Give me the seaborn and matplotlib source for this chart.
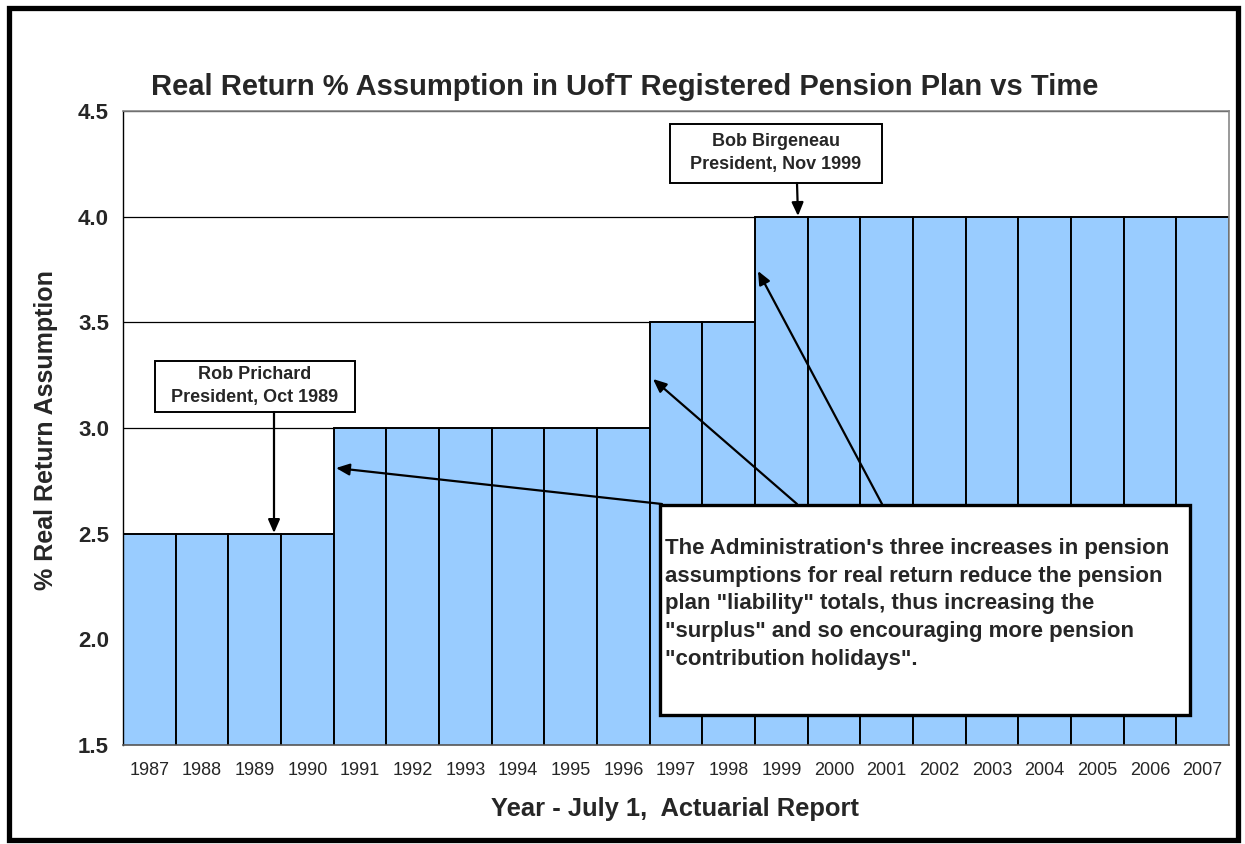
import matplotlib
matplotlib.use("Agg")
import matplotlib.pyplot as plt
import seaborn as sns
import pandas as pd
from matplotlib.patches import Rectangle

years = [str(y) for y in range(1987, 2008)]
values = [2.5, 2.5, 2.5, 2.5,
          3.0, 3.0, 3.0, 3.0, 3.0, 3.0,
          3.5, 3.5,
          4.0, 4.0, 4.0, 4.0, 4.0, 4.0, 4.0, 4.0, 4.0]
y_ticks = [1.5, 2.0, 2.5, 3.0, 3.5, 4.0, 4.5]

title = "Real Return % Assumption in UofT Registered Pension Plan vs Time"
xlabel = "Year - July 1,  Actuarial Report"
ylabel = "% Real Return Assumption"
note1 = "Rob Prichard\nPresident, Oct 1989"
note2 = "Bob Birgeneau\nPresident, Nov 1999"
note3 = ("The Administration's three increases in pension\n"
         "assumptions for real return reduce the pension\n"
         "plan \"liability\" totals, thus increasing the\n"
         "\"surplus\" and so encouraging more pension\n"
         "\"contribution holidays\".")

sns.set_style("white")
plt.rcParams['font.family'] = ['Liberation Sans', 'DejaVu Sans']

W, H = 1245, 844
fig = plt.figure(figsize=(W / 100, H / 100), dpi=100)

def fx(x):
    return x / W

def fy(y):
    return 1 - y / H

ax = fig.add_axes([fx(123), fy(745), fx(1229) - fx(123), fy(111) - fy(745)])

df = pd.DataFrame({"year": years, "value": values})
sns.barplot(data=df, x="year", y="value", ax=ax, color="#99CCFF",
            saturation=1, width=1.0, edgecolor="black", linewidth=1.4, zorder=2)

ax.set_ylim(1.5, 4.5)
ax.set_xlim(-0.5, len(years) - 0.5)
ax.set_yticks(y_ticks)
ax.set_yticklabels([f"{v:.1f}" for v in y_ticks], fontsize=16, fontweight="bold")
ax.set_xticks(range(len(years)))
ax.set_xticklabels(years, fontsize=13)
ax.set_xticks([i - 0.5 for i in range(len(years) + 1)], minor=True)
ax.tick_params(axis="x", which="major", length=0, pad=12)
ax.tick_params(axis="x", which="minor", length=5, width=1, color="#555555", direction="out")
ax.tick_params(axis="y", which="major", length=6, width=1, color="black", direction="out", pad=4)
ax.set_xlabel("")
ax.set_ylabel("")
ax.set_axisbelow(True)
ax.yaxis.grid(True, color="black", linewidth=0.9)
ax.xaxis.grid(False)
for s in ["top", "right"]:
    ax.spines[s].set_color("#888888")
    ax.spines[s].set_linewidth(1.2)
ax.spines["left"].set_color("black")
ax.spines["left"].set_linewidth(1.0)
ax.spines["bottom"].set_color("#555555")
ax.spines["bottom"].set_linewidth(1.2)

fig.text(fx(625), fy(87), title, ha="center", va="center",
         fontsize=21, fontweight="bold")
fig.text(fx(675), fy(809), xlabel, ha="center", va="center",
         fontsize=18.4, fontweight="bold")
fig.text(fx(46), fy(430), ylabel, ha="center", va="center",
         fontsize=18, fontweight="bold", rotation=90)

# outer border
fig.patches.append(Rectangle((fx(9), fy(840)), fx(1238) - fx(9), fy(8) - fy(840),
                             transform=fig.transFigure, fill=False,
                             edgecolor="black", linewidth=3.8, zorder=10))

def dx(px):
    return (px - 123) / (1106 / len(years)) - 0.5

def dy(py):
    return 1.5 + (745 - py) / (634 / 3.0)

arrow_kw = dict(arrowstyle="-|>,head_length=0.8,head_width=0.35",
                color="black", lw=1.6, shrinkA=0, shrinkB=0)

# Rob Prichard box
ax.add_patch(Rectangle((dx(155), dy(412)), dx(355) - dx(155), dy(361) - dy(412),
                       facecolor="white", edgecolor="black", linewidth=1.4,
                       zorder=5, clip_on=False))
ax.text(dx(255), dy(386), note1, ha="center", va="center", fontsize=13,
        fontweight="bold", zorder=6, linespacing=1.4)
ax.annotate("", xy=(dx(274), dy(533)), xytext=(dx(274), dy(412)),
            arrowprops=arrow_kw, zorder=6)

# Bob Birgeneau box
ax.add_patch(Rectangle((dx(670), dy(183)), dx(882) - dx(670), dy(124) - dy(183),
                       facecolor="white", edgecolor="black", linewidth=1.4,
                       zorder=5, clip_on=False))
ax.text(dx(776), dy(153), note2, ha="center", va="center", fontsize=13,
        fontweight="bold", zorder=6, linespacing=1.4)
ax.annotate("", xy=(dx(798), dy(216)), xytext=(dx(797), dy(183)),
            arrowprops=arrow_kw, zorder=6)

# Big note box arrows
for head, tail in [((336, 468), (662, 504)),
                   ((653, 379), (797, 504)),
                   ((758, 271), (882, 504))]:
    ax.annotate("", xy=(dx(head[0]), dy(head[1])), xytext=(dx(tail[0]), dy(tail[1])),
                arrowprops=arrow_kw, zorder=6)

ax.add_patch(Rectangle((dx(660), dy(715)), dx(1190) - dx(660), dy(505) - dy(715),
                       facecolor="white", edgecolor="black", linewidth=2.4,
                       zorder=7, clip_on=False))
ax.text(dx(665), dy(538), note3, ha="left", va="top", fontsize=16,
        fontweight="bold", zorder=8, linespacing=1.42)

fig.savefig("out.png", dpi=100, facecolor="white")
